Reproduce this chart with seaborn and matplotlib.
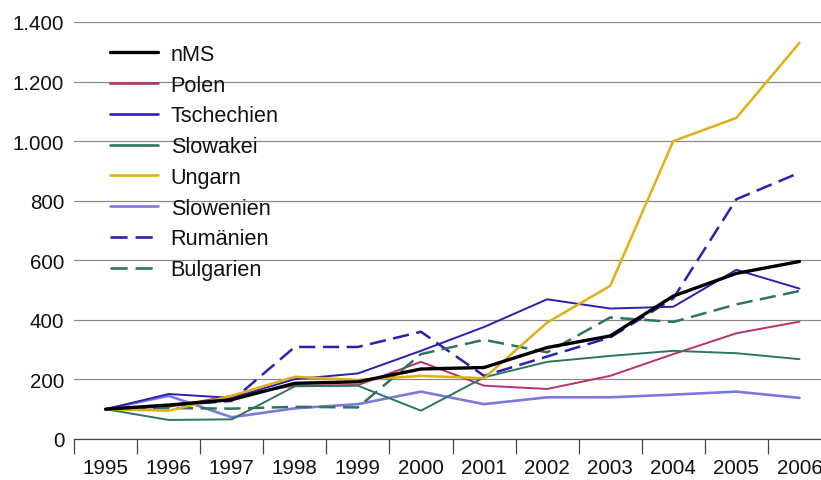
import numpy as np
import pandas as pd
import seaborn as sns
import matplotlib
matplotlib.use("Agg")
import matplotlib.pyplot as plt
import matplotlib.ticker as ticker

years = ["1995", "1996", "1997", "1998", "1999", "2000",
         "2001", "2002", "2003", "2004", "2005", "2006"]

nms = [100, 114, 132, 187, 192, 235, 240, 307, 346, 480, 556, 596]
polen = [100, 108, 145, 179, 181, 259, 179, 168, 212, 285, 355, 394]
tschechien = [100, 151, 138, 201, 220, 296, 376, 469, 438, 444, 568, 505]
slowakei = [100, 64, 66, 177, 179, 95, 207, 259, 279, 296, 288, 268]
ungarn = [100, 95, 145, 209, 198, 212, 204, 391, 514, 1000, 1078, 1330]
slowenien = [100, 145, 73, 103, 117, 159, 117, 140, 140, 149, 159, 138]
rumaenien = [100, 112, 128, 309, 309, 360, 212, 277, 341, 472, 805, 894]
bulgarien = [100, 104, 102, 108, 106, 285, 333, 291, 408, 393, 452, 497]

series = {
    "nMS": nms,
    "Polen": polen,
    "Tschechien": tschechien,
    "Slowakei": slowakei,
    "Ungarn": ungarn,
    "Slowenien": slowenien,
    "Rumänien": rumaenien,
    "Bulgarien": bulgarien,
}

# colour, line width, line style, zorder
styles = {
    "nMS": ("#000000", 2.4, "-", 10),
    "Polen": ("#b8306e", 1.4, "-", 4),
    "Tschechien": ("#2d1fb0", 1.4, "-", 5),
    "Slowakei": ("#2e7560", 1.4, "-", 4),
    "Ungarn": ("#e0b014", 1.8, "-", 6),
    "Slowenien": ("#7b78e0", 1.9, "-", 3),
    "Rumänien": ("#2d1fb0", 1.8, (0, (6.5, 3)), 5),
    "Bulgarien": ("#2e7560", 1.8, (0, (6.5, 3)), 5),
}

sns.set_style("white")
plt.rcParams["font.family"] = ["Liberation Sans", "DejaVu Sans"]
plt.rcParams["font.size"] = 14.5

fig = plt.figure(figsize=(8.21, 4.81), dpi=100)
ax = fig.add_axes([74 / 821, 41 / 481, 757 / 821, 417 / 481])

x = np.arange(len(years))
for name, vals in series.items():
    color, lw, ls, z = styles[name]
    df = pd.DataFrame({"x": x, "y": vals})
    sns.lineplot(data=df, x="x", y="y", ax=ax, color=color, linewidth=lw,
                 linestyle=ls, label=name, zorder=z)

ax.set_xlim(-0.5, 11.5)
ax.set_ylim(0, 1400)
ax.set_xlabel("")
ax.set_ylabel("")

ax.set_yticks(range(0, 1401, 200))
ax.yaxis.set_major_formatter(ticker.FuncFormatter(
    lambda v, p: "{:,}".format(int(v)).replace(",", ".")))
ax.tick_params(axis="y", length=0, pad=7, labelsize=14.8, colors="#111111")
ax.grid(axis="y", color="#8a8a8a", linewidth=0.9)
ax.grid(axis="x", visible=False)

# year labels centred in each slot, tick marks on the slot boundaries
ax.set_xticks(x, labels=years)
ax.set_xticks(np.arange(-0.5, 12, 1), minor=True)
ax.tick_params(axis="x", which="major", length=0, pad=13.5, labelsize=14.8,
               colors="#111111")
ax.tick_params(axis="x", which="minor", length=11, width=0.9,
               direction="out", color="#444444", bottom=True)

for side in ["top", "right", "left"]:
    ax.spines[side].set_visible(False)
ax.spines["bottom"].set_color("#444444")
ax.spines["bottom"].set_linewidth(0.9)

leg = ax.legend(loc="upper left", bbox_to_anchor=(110 / 821, 1 - 45 / 481),
                bbox_transform=fig.transFigure, frameon=False,
                fontsize=15.6, handlelength=2.2, handletextpad=0.6,
                labelspacing=0.45, borderpad=0, borderaxespad=0)
for text in leg.get_texts():
    text.set_color("#111111")
for line in leg.get_lines():
    line.set_linewidth(max(line.get_linewidth(), 1.9))

plt.savefig("out.png", dpi=100)
